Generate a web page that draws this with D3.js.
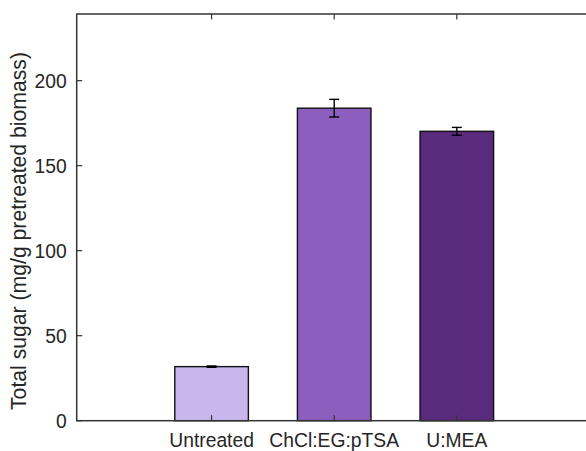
<!DOCTYPE html>
<html lang="en">
<head>
  <meta charset="UTF-8">
  <title>Total sugar</title>
  <script src="https://d3js.org/d3.v7.min.js"></script>
  <style>
    body { margin: 0; background: #fff; }
    svg { display: block; font-family: "Liberation Sans", Arial, sans-serif; }
  </style>
</head>
<body>
  <svg width="586" height="451"></svg>

  <script>
    const categories = ["Untreated", "ChCl:EG:pTSA", "U:MEA"];
    const values = [31.8, 183.8, 170.2];
    const errors = [0.4, 5.2, 2.3];
    const colors = ["#c8b6ec", "#8c5fbf", "#5a2a7d"];
    const yTicks = [0, 50, 100, 150, 200];

    const svg = d3.select("svg");
    const axisColor = "#333";
    const textColor = "#262626";

    const plotL = 76.7, plotR = 591.7, plotT = 14, plotB = 420.7;

    const x = d3.scaleLinear().domain([-1.1, 3.1]).range([plotL, plotR]);
    const y = d3.scaleLinear().domain([0, 239.2]).range([plotB, plotT]);
    const barW = x(0.6) - x(0);

    // bars
    svg.selectAll("rect.bar")
      .data(values)
      .enter()
      .append("rect")
      .attr("class", "bar")
      .attr("x", (d, i) => x(i) - barW / 2)
      .attr("y", d => y(d))
      .attr("width", barW)
      .attr("height", d => y(0) - y(d))
      .attr("fill", (d, i) => colors[i])
      .attr("stroke", "#111")
      .attr("stroke-width", 1.4);

    // error bars
    const eb = svg.selectAll("g.err")
      .data(values)
      .enter()
      .append("g")
      .attr("class", "err")
      .attr("stroke", "#000")
      .attr("stroke-width", 1.4);
    eb.append("line")
      .attr("x1", (d, i) => x(i)).attr("x2", (d, i) => x(i))
      .attr("y1", (d, i) => y(d - errors[i])).attr("y2", (d, i) => y(d + errors[i]));
    [-1, 1].forEach(s => {
      eb.append("line")
        .attr("x1", (d, i) => x(i) - 5).attr("x2", (d, i) => x(i) + 5)
        .attr("y1", (d, i) => y(d + s * errors[i])).attr("y2", (d, i) => y(d + s * errors[i]));
    });

    // axes box
    svg.append("rect")
      .attr("x", plotL).attr("y", plotT)
      .attr("width", plotR - plotL).attr("height", plotB - plotT)
      .attr("fill", "none")
      .attr("stroke", axisColor)
      .attr("stroke-width", 1.5);

    // y ticks (left + right, inward)
    const ytg = svg.append("g").attr("stroke", axisColor).attr("stroke-width", 1.2);
    ytg.selectAll("line.l").data(yTicks).enter().append("line")
      .attr("x1", plotL).attr("x2", plotL + 5.5)
      .attr("y1", d => y(d)).attr("y2", d => y(d));
    ytg.selectAll("line.r").data(yTicks).enter().append("line")
      .attr("x1", plotR).attr("x2", plotR - 5.5)
      .attr("y1", d => y(d)).attr("y2", d => y(d));

    svg.selectAll("text.yt")
      .data(yTicks)
      .enter()
      .append("text")
      .attr("class", "yt")
      .attr("x", plotL - 10)
      .attr("y", d => y(d))
      .attr("dy", "0.36em")
      .attr("text-anchor", "end")
      .attr("font-size", "19.3px")
      .attr("fill", textColor)
      .text(d => d);

    // x ticks (bottom + top, inward)
    const xtg = svg.append("g").attr("stroke", axisColor).attr("stroke-width", 1.2);
    xtg.selectAll("line.b").data(categories).enter().append("line")
      .attr("x1", (d, i) => x(i)).attr("x2", (d, i) => x(i))
      .attr("y1", plotB).attr("y2", plotB - 5.5);
    xtg.selectAll("line.t").data(categories).enter().append("line")
      .attr("x1", (d, i) => x(i)).attr("x2", (d, i) => x(i))
      .attr("y1", plotT).attr("y2", plotT + 5.5);

    svg.selectAll("text.xt")
      .data(categories)
      .enter()
      .append("text")
      .attr("class", "xt")
      .attr("x", (d, i) => x(i))
      .attr("y", 446.5)
      .attr("text-anchor", "middle")
      .attr("font-size", "19.3px")
      .attr("fill", textColor)
      .text(d => d);

    // y label
    svg.append("text")
      .attr("transform", "translate(26,231) rotate(-90)")
      .attr("text-anchor", "middle")
      .attr("font-size", "21.2px")
      .attr("fill", textColor)
      .text("Total sugar (mg/g pretreated biomass)");
  </script>
</body>
</html>
